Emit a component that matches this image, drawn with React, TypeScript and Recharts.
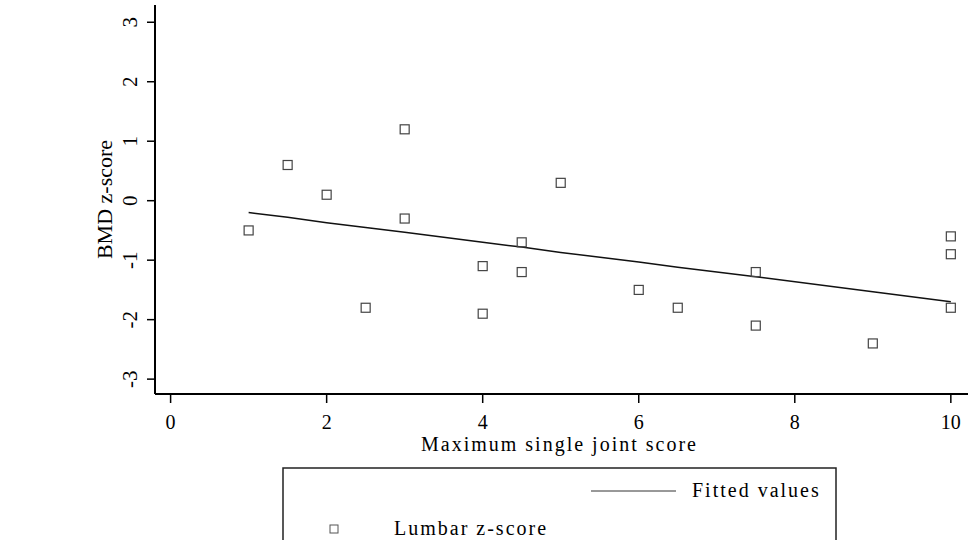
import React from 'react';
import { ComposedChart, Line, Scatter, XAxis, YAxis, Legend } from 'recharts';

// Maximum single joint score vs lumbar BMD z-score
const jointScore = [1, 1.5, 2, 2.5, 3, 3, 4, 4, 4.5, 4.5, 5, 6, 6.5, 7.5, 7.5, 9, 10, 10, 10];
const lumbarZ = [-0.5, 0.6, 0.1, -1.8, 1.2, -0.3, -1.1, -1.9, -0.7, -1.2, 0.3, -1.5, -1.8, -1.2, -2.1, -2.4, -0.6, -0.9, -1.8];

const fitX = [1, 1.5, 2, 2.5, 3, 4, 4.5, 5, 6, 6.5, 7.5, 9, 10];
const fitted = [-0.2, -0.28, -0.37, -0.45, -0.53, -0.7, -0.78, -0.87, -1.03, -1.12, -1.28, -1.53, -1.7];

const xTicks = [0, 2, 4, 6, 8, 10];
const yTicks = [-3, -2, -1, 0, 1, 2, 3];

const points = jointScore.map((x, i) => ({ x, z: lumbarZ[i] }));
const fitRows = fitX.map((x, i) => ({ x, fit: fitted[i] }));

const FONT = '"Liberation Serif", "Times New Roman", serif';

const SquareDot = (props: any) => {
  const { cx, cy } = props;
  if (cx == null || cy == null) return null;
  return (
    <rect x={cx - 4.5} y={cy - 4.5} width={9} height={9} fill="none" stroke="#444" strokeWidth={1.2} />
  );
};

const YTick = (props: any) => {
  const { x, y, payload } = props;
  return (
    <g transform={`translate(${x - 8},${y}) rotate(-90)`}>
      <text textAnchor="middle" fontFamily={FONT} fontSize={21} fill="#000">
        {payload.value}
      </text>
    </g>
  );
};

const YLabel = (props: any) => {
  const vb = props.viewBox;
  const cx = vb.x + 17;
  const cy = vb.y + vb.height / 2;
  return (
    <text
      transform={`translate(${cx},${cy}) rotate(-90)`}
      textAnchor="middle"
      fontFamily={FONT}
      fontSize={22}
      fill="#000"
    >
      BMD z-score
    </text>
  );
};

const XLabel = (props: any) => {
  const vb = props.viewBox;
  return (
    <text
      x={vb.x + vb.width / 2 - 2}
      y={vb.y + 57}
      textAnchor="middle"
      fontFamily={FONT}
      fontSize={20}
      letterSpacing={2}
      fill="#000"
    >
      Maximum single joint score
    </text>
  );
};

const LegendBox = (props: any) => {
  const items = props.payload || [];
  const line = items.find((p: any) => p.type === 'line');
  const dots = items.find((p: any) => p.type !== 'line');
  return (
    <svg width={555} height={73} style={{ display: 'block' }}>
      <rect x={1} y={1} width={553} height={100} fill="#fff" stroke="#222" strokeWidth={1.5} />
      <line x1={309} x2={394} y1={24} y2={24} stroke="#333" strokeWidth={1} />
      <text x={410} y={30} fontFamily={FONT} fontSize={20} letterSpacing={2} fill="#000">
        {line ? line.value : 'Fitted values'}
      </text>
      <rect x={48} y={58} width={8} height={8} fill="none" stroke="#555" strokeWidth={1} />
      <text x={112} y={68} fontFamily={FONT} fontSize={20} letterSpacing={2} fill="#000">
        {dots ? dots.value : 'Lumbar z-score'}
      </text>
    </svg>
  );
};

export default function App() {
  return (
    <div style={{ position: 'absolute', left: 0, top: 0, width: 968, height: 540, background: '#fff', overflow: 'hidden' }}>
      <ComposedChart
        width={968}
        height={540}
        data={fitRows}
        margin={{ top: 5, right: 0, left: 95, bottom: 86 }}
      >
        <XAxis
          dataKey="x"
          type="number"
          domain={[-0.2, 10.22]}
          ticks={xTicks}
          allowDataOverflow
          height={60}
          tickSize={9}
          tickMargin={12}
          axisLine={{ stroke: '#000', strokeWidth: 2 }}
          tickLine={{ stroke: '#000', strokeWidth: 1.5 }}
          tick={{ fontFamily: FONT, fontSize: 20, fill: '#000' }}
          label={{ content: XLabel }}
        />
        <YAxis
          type="number"
          domain={[-3.25, 3.29]}
          ticks={yTicks}
          allowDataOverflow
          width={60}
          tickSize={8}
          axisLine={{ stroke: '#000', strokeWidth: 2 }}
          tickLine={{ stroke: '#000', strokeWidth: 1.5 }}
          tick={YTick}
          label={{ content: YLabel }}
        />
        <Legend
          layout="horizontal"
          verticalAlign="middle"
          align="center"
          content={LegendBox}
          wrapperStyle={{ position: 'absolute', left: 282, top: 467, width: 555, height: 73 }}
        />
        <Line
          name="Fitted values"
          type="linear"
          dataKey="fit"
          stroke="#111"
          strokeWidth={1.5}
          dot={false}
          legendType="line"
          isAnimationActive={false}
        />
        <Scatter
          name="Lumbar z-score"
          data={points}
          dataKey="z"
          shape={SquareDot}
          legendType="square"
          isAnimationActive={false}
        />
      </ComposedChart>
    </div>
  );
}
